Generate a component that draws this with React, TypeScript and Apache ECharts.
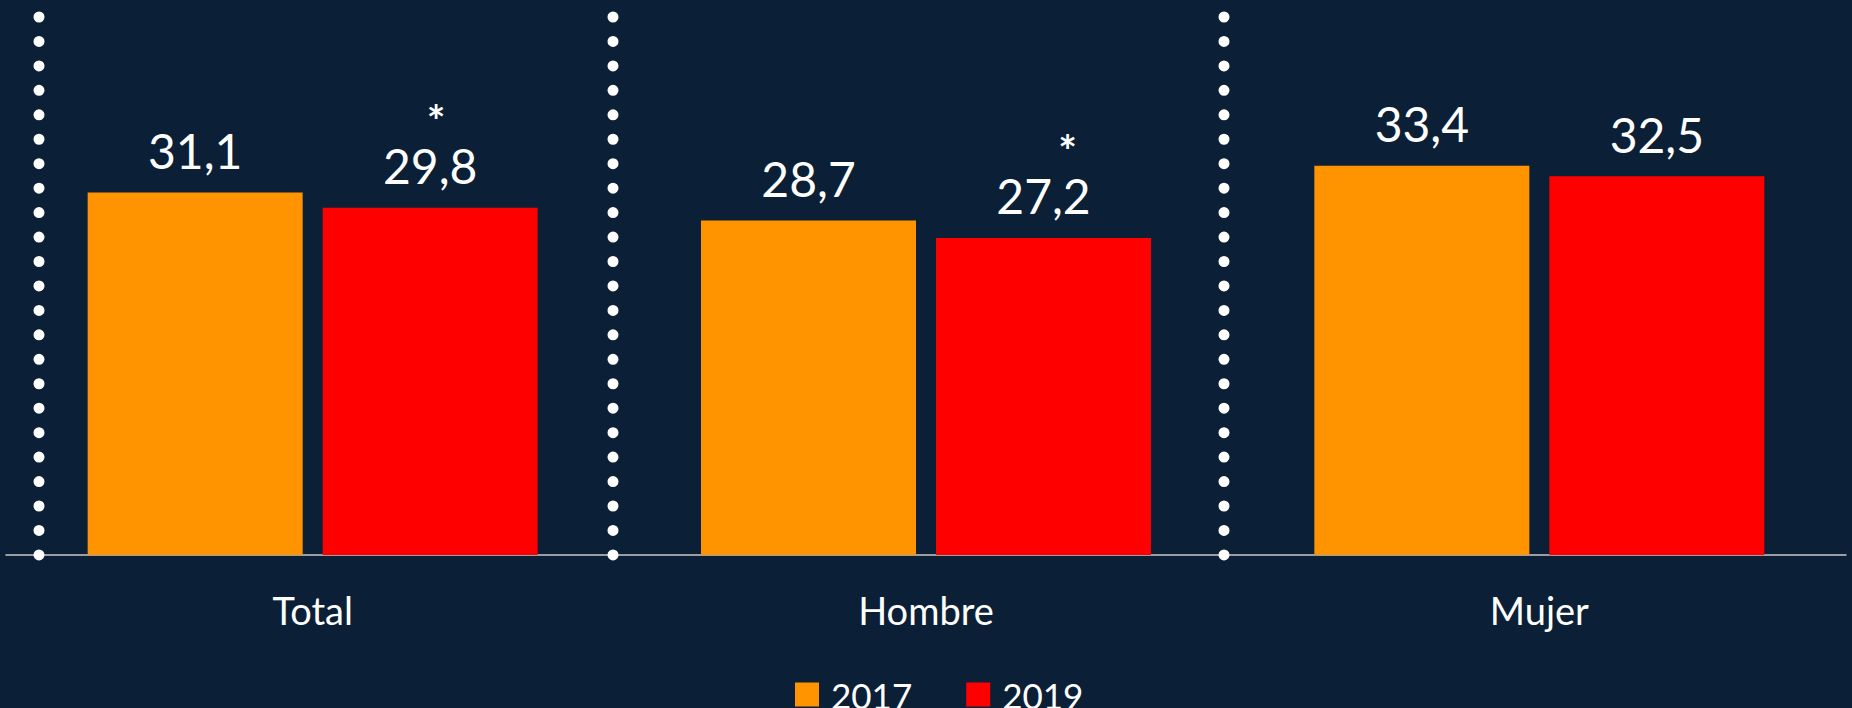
import React, { useEffect, useRef } from "react";
import * as echarts from "echarts";

const categories = ["Total", "Hombre", "Mujer"];
const seriesNames = ["2017", "2019"];
const values2017 = [31.1, 28.7, 33.4];
const values2019 = [29.8, 27.2, 32.5];
const significant2019 = [true, true, false];

const BG = "#0B2036";
const ORANGE = "#FF9300";
const RED = "#FF0000";
const FONT = "Lato";

const fmt = (v: number) => v.toFixed(1).replace(".", ",");

// star horizontal nudges (left padding) per category
const starPad = [12, 48, 0];

export default function App() {
  const ref = useRef<HTMLDivElement>(null);

  useEffect(() => {
    if (!ref.current) return;
    const chart = echarts.init(ref.current, undefined, { renderer: "svg" });

    const baseLabel = {
      show: true,
      position: "top",
      distance: 18,
      color: "#FFFFFF",
      fontFamily: FONT,
      fontSize: 48,
    };

    const data2017 = values2017.map((v) => ({ value: v }));
    const data2019 = values2019.map((v, i) => ({
      value: v,
      label: {
        formatter: significant2019[i]
          ? `{s${i}|*}\n{v|${fmt(v)}}`
          : `{v|${fmt(v)}}`,
      },
    }));

    const rich: any = {
      v: { fontSize: 48, lineHeight: 48, color: "#FFFFFF", fontFamily: FONT },
    };
    starPad.forEach((p, i) => {
      rich["s" + i] = {
        fontSize: 44,
        lineHeight: 44,
        fontWeight: "bold",
        color: "#FFFFFF",
        fontFamily: FONT,
        padding: [0, 0, 0, p],
      };
    });

    const dotXs = [39, 613, 1224];
    const graphic = dotXs.map((x) => ({
      type: "line",
      z: 100,
      shape: { x1: x, y1: 17, x2: x, y2: 556 },
      style: {
        stroke: "#FFFFFF",
        lineWidth: 11,
        lineCap: "round",
        lineDash: [0.01, 24.44],
      },
      silent: true,
    }));

    chart.setOption({
      animation: false,
      backgroundColor: BG,
      grid: { left: 6, right: 6, top: 30.5, bottom: 153, containLabel: false },
      legend: {
        data: seriesNames,
        left: 790,
        top: 672,
        icon: "rect",
        itemWidth: 24,
        itemHeight: 24,
        itemGap: 54,
        textStyle: {
          color: "#FFFFFF",
          fontFamily: FONT,
          fontSize: 35,
          padding: [0, 0, 0, 7],
        },
      },
      xAxis: {
        type: "category",
        data: categories,
        axisLine: { lineStyle: { color: "#C8C8C8", width: 1.5 } },
        axisTick: { show: false },
        axisLabel: {
          color: "#FFFFFF",
          fontFamily: FONT,
          fontSize: 38,
          margin: 36,
        },
        splitLine: { show: false },
      },
      yAxis: {
        type: "value",
        min: 0,
        max: 45,
        show: false,
        splitLine: { show: false },
      },
      series: [
        {
          name: seriesNames[0],
          type: "bar",
          data: data2017,
          barWidth: 215,
          barGap: "9.3%",
          itemStyle: { color: ORANGE },
          label: { ...baseLabel, formatter: (p: any) => fmt(p.value) },
        },
        {
          name: seriesNames[1],
          type: "bar",
          data: data2019,
          barWidth: 215,
          barGap: "9.3%",
          itemStyle: { color: RED },
          label: { ...baseLabel, rich },
        },
      ],
      graphic,
    });

    return () => chart.dispose();
  }, []);

  return (
    <div
      ref={ref}
      style={{ position: "absolute", left: 0, top: 0, width: 1852, height: 708 }}
    />
  );
}
